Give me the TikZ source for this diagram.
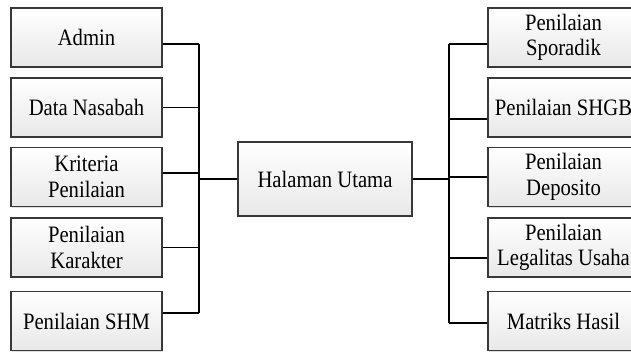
\documentclass[tikz,border=0pt]{standalone}
\usepackage{fontspec}
\setmainfont{Liberation Serif}[FakeStretch=0.88]
\usetikzlibrary{shadows}

\tikzset{
  menu/.style={draw=black!78, line width=1.4pt, top color=white, bottom color=black!9,
    minimum width=151pt, minimum height=59pt, inner sep=0pt, align=center,
    font=\fontsize{23.5}{25.5}\selectfont,
    drop shadow={shadow xshift=1.2pt, shadow yshift=-1.2pt, opacity=0.25, fill=black!50}},
  link/.style={draw=black, line width=1.6pt}
}

\begin{document}
\begin{tikzpicture}[x=1pt, y=-1pt]
    \pgfmathsetmacro{\xl}{86.5}
    \pgfmathsetmacro{\xr}{563.5}
    \useasboundingbox (0, 0) rectangle (631, 352);
    \clip (0, 0) rectangle (631, 352);

    % halaman utama
    \node[menu, minimum width=174pt, minimum height=74pt] (main) at (325, 179) {Halaman Utama};

    % menu kiri
    \node[menu] (admin) at (\xl, 37.5) {Admin};
    \node[menu] (nasabah) at (\xl, 107.5) {Data Nasabah};
    \node[menu] (kriteria) at (\xl, 177) {Kriteria\\Penilaian};
    \node[menu] (karakter) at (\xl, 247.5) {Penilaian\\Karakter};
    \node[menu] (shm) at (\xl, 321) {Penilaian SHM};

    % menu kanan
    \node[menu] (sporadik) at (\xr, 37.5) {Penilaian\\Sporadik};
    \node[menu] (shgb) at (\xr, 107.5) {Penilaian SHGB};
    \node[menu] (deposito) at (\xr, 177) {Penilaian\\Deposito};
    \node[menu] (legalitas) at (\xr, 247.5) {Penilaian\\Legalitas Usaha};
    \node[menu] (matriks) at (\xr, 321) {Matriks Hasil};

    \coordinate (lbus) at (199, 0);
    \coordinate (rbus) at (449, 0);

    \foreach \n/\y in {admin/44, nasabah/107.5, kriteria/173, karakter/247.5, shm/313}
        \draw[link] (\n.east |- 0, \y) -- (lbus |- 0, \y);
    \draw[link] (lbus |- 0, 44) -- (lbus |- 0, 313);
    \draw[link] (lbus |- main.west) -- (main.west);

    \foreach \n/\y in {sporadik/44, shgb/119, deposito/177, legalitas/258, matriks/323}
        \draw[link] (\n.west |- 0, \y) -- (rbus |- 0, \y);
    \draw[link] (rbus |- 0, 44) -- (rbus |- 0, 323);
    \draw[link] (main.east) -- (rbus |- main.east);
\end{tikzpicture}
\end{document}
